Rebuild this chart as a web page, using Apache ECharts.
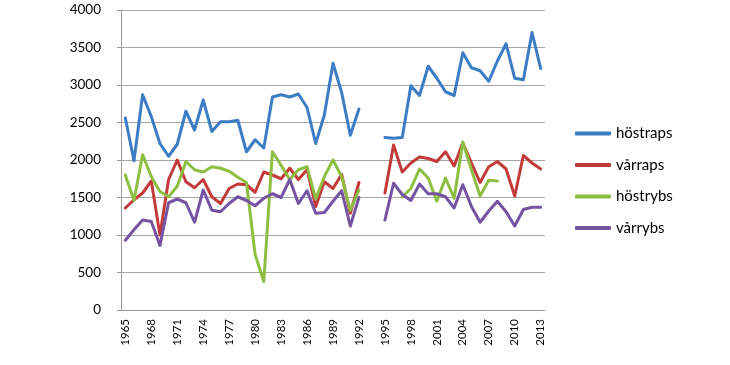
<!DOCTYPE html>
<html>
<head>
<meta charset="utf-8">
<script src="https://cdn.jsdelivr.net/npm/echarts@6/dist/echarts.min.js"></script>
<style>html,body{margin:0;padding:0;background:#fff;}#c{width:730px;height:365px;}</style>
</head>
<body>
<div id="c"></div>
<script>
var years = ['1965','1966','1967','1968','1969','1970','1971','1972','1973','1974','1975','1976','1977','1978','1979','1980','1981','1982','1983','1984','1985','1986','1987','1988','1989','1990','1991','1992','1993','1994','1995','1996','1997','1998','1999','2000','2001','2002','2003','2004','2005','2006','2007','2008','2009','2010','2011','2012','2013'];
var hostraps = [2560,1990,2870,2580,2220,2050,2210,2650,2400,2800,2380,2510,2510,2530,2110,2270,2160,2840,2870,2840,2880,2700,2220,2600,3290,2900,2330,2680,null,null,2300,2290,2300,2990,2860,3250,3090,2910,2860,3430,3230,3190,3050,3320,3550,3090,3070,3700,3220];
var varraps = [1360,1470,1560,1720,1000,1740,2000,1710,1630,1740,1510,1420,1620,1680,1670,1570,1840,1800,1750,1890,1740,1870,1380,1710,1620,1810,1290,1700,null,null,1560,2200,1840,1960,2040,2020,1980,2110,1920,2230,1960,1700,1910,1980,1880,1520,2060,1960,1880];
var hostrybs = [1800,1460,2070,1780,1580,1510,1650,1980,1870,1840,1910,1890,1850,1770,1700,740,380,2110,1930,1740,1870,1910,1480,1780,2000,1780,1330,1600,null,null,null,null,1510,1620,1880,1760,1450,1760,1490,2240,1870,1520,1730,1720,null,null,null,null,null];
var varrybs = [930,1070,1200,1180,860,1430,1480,1430,1170,1600,1330,1310,1420,1510,1460,1390,1490,1550,1500,1740,1420,1590,1290,1300,1450,1590,1120,1500,null,null,1200,1690,1540,1460,1680,1550,1550,1510,1360,1670,1380,1170,1320,1450,1310,1120,1340,1370,1370];
var names = ['höstraps','vårraps','höstrybs','vårrybs'];
var colors = ['#3B7CC4','#C23B3A','#8DBE42','#7453A2'];
var datas = [hostraps, varraps, hostrybs, varrybs];

var chart = echarts.init(document.getElementById('c'));
var font = 'Lato, "Open Sans", sans-serif';
chart.setOption({
  animation: false,
  color: colors,
  textStyle: {fontFamily: font},
  grid: {left: 121, right: 185, top: 10, bottom: 55},
  legend: {
    orient: 'vertical', left: 570, top: 121,
    itemWidth: 36, itemHeight: 4, itemGap: 16.5,
    icon: 'roundRect',
    textStyle: {fontSize: 15, color: '#000', fontFamily: font},
    data: names
  },
  xAxis: {
    type: 'category', data: years, boundaryGap: true,
    axisLine: {lineStyle: {color: '#9a9a9a', width: 1}},
    axisTick: {interval: 0, length: 4, lineStyle: {color: '#9a9a9a'}},
    axisLabel: {interval: 2, rotate: 90, fontSize: 11.5, color: '#000', margin: 9, fontFamily: font}
  },
  yAxis: {
    type: 'value', min: 0, max: 4000, interval: 500,
    axisLine: {show: true, lineStyle: {color: '#9a9a9a', width: 1}},
    axisTick: {show: true, length: 4, lineStyle: {color: '#9a9a9a'}},
    splitLine: {lineStyle: {color: '#a6a6a6', width: 1.2}},
    axisLabel: {fontSize: 13.5, color: '#000', margin: 20, fontFamily: font,
      formatter: function(v){ return String(v); }}
  },
  series: names.map(function(n, i){
    return {
      name: n, type: 'line', data: datas[i], symbol: 'none', connectNulls: false,
      lineStyle: {width: 3, color: colors[i], cap: 'round', join: 'round'},
      itemStyle: {color: colors[i]}
    };
  })
});
</script>
</body>
</html>
